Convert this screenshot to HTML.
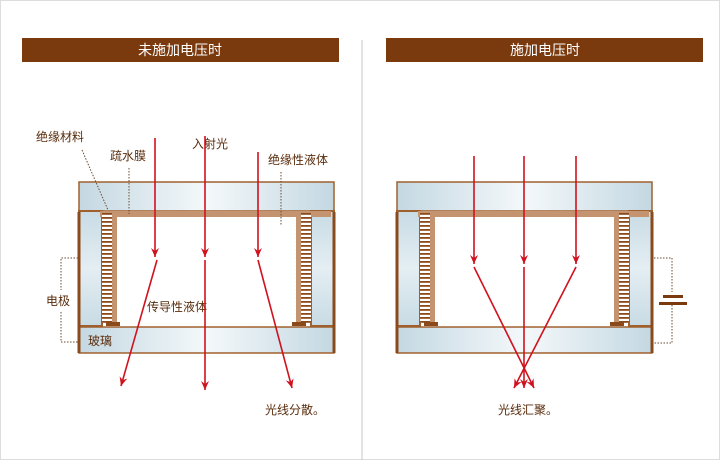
<!DOCTYPE html>
<html><head><meta charset="utf-8"><style>
html,body{margin:0;padding:0;background:#fff}
svg{display:block}
text{font-family:"Liberation Sans","Noto Sans CJK SC",sans-serif;font-size:12px;fill:#5a2c0c}
</style></head><body>
<svg width="720" height="460" viewBox="0 0 720 460" xmlns="http://www.w3.org/2000/svg">
<defs>
<linearGradient id="g" x1="0" x2="1" y1="0" y2="0">
<stop offset="0" stop-color="#c4d8e2"/><stop offset="0.5" stop-color="#f4f8fa"/><stop offset="1" stop-color="#c4d8e2"/>
</linearGradient>
<linearGradient id="gv" x1="0" x2="0" y1="0" y2="1">
<stop offset="0" stop-color="#c8dbe4"/><stop offset="0.5" stop-color="#e4eef3"/><stop offset="1" stop-color="#c8dbe4"/>
</linearGradient>
<pattern id="lad" width="10" height="4" patternUnits="userSpaceOnUse">
<rect width="10" height="4" fill="#fff"/><rect x="0" y="1" width="10" height="1.8" fill="#8a4a1c"/>
</pattern>
<marker id="ah" markerWidth="10" markerHeight="8" refX="9" refY="4" orient="auto" markerUnits="userSpaceOnUse">
<path d="M0,0 L9,4 L0,8 L3,4 Z" fill="#d0121e"/>
</marker>
<g id="cell">
<rect x="79" y="182" width="255" height="29" fill="url(#g)" stroke="#a0602e" stroke-width="1.5"/>
<rect x="79" y="327" width="255" height="26" fill="url(#g)" stroke="#a0602e" stroke-width="1.5"/>
<rect x="79" y="211" width="23" height="115" fill="url(#gv)" stroke="#a0602e" stroke-width="2"/>
<rect x="311" y="211" width="23" height="115" fill="url(#gv)" stroke="#a0602e" stroke-width="2"/>
<rect x="100" y="211" width="231" height="6" fill="#c49470"/>
<rect x="112" y="211" width="5" height="114" fill="#c49470"/>
<rect x="296" y="211" width="5" height="114" fill="#c49470"/>
<rect x="102" y="213" width="10" height="110" fill="url(#lad)"/>
<rect x="301" y="213" width="10" height="110" fill="url(#lad)"/>
<rect x="106" y="322" width="14" height="4" fill="#8a4a1c"/>
<rect x="292" y="322" width="14" height="4" fill="#8a4a1c"/>
<line x1="79" y1="212" x2="79" y2="353" stroke="#8a4a1c" stroke-width="3"/>
<line x1="334" y1="212" x2="334" y2="353" stroke="#8a4a1c" stroke-width="3"/>
</g>
</defs>
<rect x="0.5" y="0.5" width="719" height="459" fill="#fff" stroke="#ddd"/>
<rect x="22" y="38" width="317" height="24" fill="#7b3a0e"/>
<rect x="386" y="38" width="317" height="24" fill="#7b3a0e"/>
<text x="180" y="55" text-anchor="middle" style="fill:#fff;font-size:14px">未施加电压时</text>
<text x="545" y="55" text-anchor="middle" style="fill:#fff;font-size:14px">施加电压时</text>
<line x1="362" y1="40" x2="362" y2="460" stroke="#c8c8c8"/>

<use href="#cell"/>
<use href="#cell" transform="translate(318,0)"/>

<text x="36" y="141">绝缘材料</text>
<text x="110" y="160">疏水膜</text>
<text x="192" y="148">入射光</text>
<text x="268" y="164">绝缘性液体</text>
<text x="147" y="311">传导性液体</text>
<text x="88" y="345">玻璃</text>
<text x="46" y="305">电极</text>
<text x="265" y="414">光线分散。</text>
<text x="498" y="414">光线汇聚。</text>
<g stroke="#6a4a30" stroke-width="1" stroke-dasharray="1.5,1.5" fill="none">
<path d="M82,150 L108,210"/>
<path d="M129,168 L129,214"/>
<path d="M281,172 L281,225"/>
<path d="M78,258 L61,258 L61,290"/>
<path d="M61,312 L61,342 L78,342"/>
<path d="M654,258 L672,258 L672,292"/>
<path d="M672,305 L672,343 L654,343"/>
</g>
<rect x="663" y="295" width="20" height="3" fill="#7b3a0e"/>
<rect x="659" y="302" width="28" height="3" fill="#7b3a0e"/>

<g stroke="#d0121e" stroke-width="1.6" fill="none">
<line x1="155" y1="138" x2="155" y2="257" marker-end="url(#ah)"/>
<line x1="205" y1="136" x2="205" y2="257" marker-end="url(#ah)"/>
<line x1="258" y1="152" x2="258" y2="257" marker-end="url(#ah)"/>
<line x1="157" y1="260" x2="121" y2="386" marker-end="url(#ah)"/>
<line x1="205" y1="260" x2="205" y2="390" marker-end="url(#ah)"/>
<line x1="258" y1="260" x2="292" y2="388" marker-end="url(#ah)"/>
<line x1="474" y1="156" x2="474" y2="264" marker-end="url(#ah)"/>
<line x1="524" y1="156" x2="524" y2="264" marker-end="url(#ah)"/>
<line x1="576" y1="156" x2="576" y2="264" marker-end="url(#ah)"/>
<line x1="474" y1="267" x2="534" y2="388" marker-end="url(#ah)"/>
<line x1="524" y1="267" x2="524" y2="388" marker-end="url(#ah)"/>
<line x1="576" y1="267" x2="514" y2="388" marker-end="url(#ah)"/>
</g>
</svg>
</body></html>
